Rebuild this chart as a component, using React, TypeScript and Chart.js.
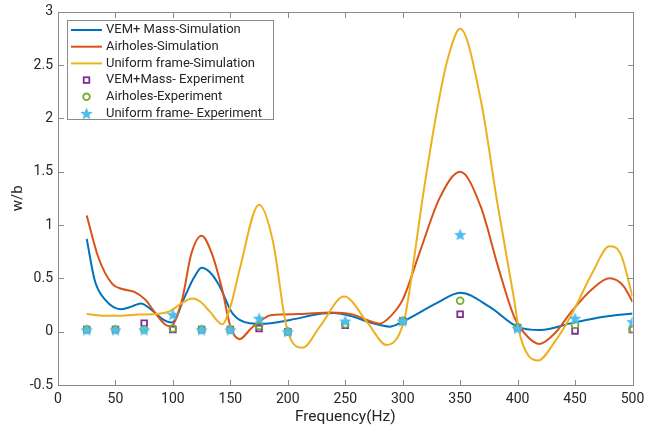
import React, { useEffect, useRef } from "react";
import { Chart, registerables } from "chart.js";

Chart.register(...registerables);

// ---- data ----
const blueFreq = [25, 32, 41, 55, 64, 72, 82, 92, 99, 110, 118, 125, 132, 140, 152, 167, 180, 202, 230, 240, 257, 272, 289, 301, 330, 350, 376, 400, 420, 447, 475, 500];
const blueVals = [0.87, 0.48, 0.3, 0.21, 0.235, 0.265, 0.2, 0.11, 0.085, 0.32, 0.5, 0.6, 0.56, 0.44, 0.17, 0.08, 0.075, 0.11, 0.17, 0.175, 0.14, 0.085, 0.047, 0.1, 0.27, 0.365, 0.23, 0.045, 0.015, 0.08, 0.14, 0.17];

const orangeFreq = [25, 35, 47, 56, 66, 76, 85, 93, 98, 108, 116, 125, 134, 143, 150, 158, 168, 176, 185, 210, 237, 257, 270, 280, 290, 300, 315, 332, 350, 368, 383, 397, 409, 419, 432, 447, 465, 480, 492, 500];
const orangeVals = [1.09, 0.7, 0.45, 0.4, 0.375, 0.3, 0.17, 0.07, 0.05, 0.3, 0.73, 0.9, 0.73, 0.39, 0.05, -0.07, 0.03, 0.1, 0.155, 0.165, 0.18, 0.16, 0.105, 0.075, 0.15, 0.3, 0.75, 1.25, 1.5, 1.17, 0.61, 0.14, -0.05, -0.115, -0.02, 0.19, 0.4, 0.5, 0.43, 0.28];

const yellowFreq = [25, 41, 55, 70, 85, 97, 108, 117, 124, 132, 143, 151, 158, 175, 187, 199, 213, 228, 249, 269, 286, 301, 306, 311, 318, 332, 339, 350, 368, 382, 397, 402, 418, 432, 446, 465, 480, 490, 500];
const yellowVals = [0.165, 0.15, 0.15, 0.16, 0.165, 0.19, 0.27, 0.31, 0.28, 0.19, 0.07, 0.27, 0.58, 1.19, 0.85, 0.04, -0.15, 0.05, 0.33, 0.09, -0.125, 0.094, 0.39, 0.77, 1.3, 2.2, 2.55, 2.84, 2.17, 1.23, 0.3, -0.03, -0.27, -0.1, 0.14, 0.55, 0.8, 0.72, 0.33];

const expFreq = [25, 50, 75, 100, 125, 150, 175, 200, 250, 300, 350, 400, 450, 500];
const vemExp = [0.02, 0.02, 0.08, 0.02, 0.02, 0.02, 0.03, 0.0, 0.06, 0.1, 0.163, 0.04, 0.007, 0.02];
const airExp = [0.02, 0.02, 0.02, 0.03, 0.02, 0.02, 0.053, 0.0, 0.07, 0.1, 0.29, 0.04, 0.063, 0.022];
const uniExp = [0.016, 0.016, 0.016, 0.16, 0.016, 0.016, 0.125, 0.0, 0.1, 0.1, 0.91, 0.03, 0.125, 0.094];

const xTicks = [0, 50, 100, 150, 200, 250, 300, 350, 400, 450, 500];
const yTicks = [-0.5, 0, 0.5, 1, 1.5, 2, 2.5, 3];

const seriesLabels = [
  "VEM+ Mass-Simulation",
  "Airholes-Simulation",
  "Uniform frame-Simulation",
  "VEM+Mass- Experiment",
  "Airholes-Experiment",
  "Uniform frame- Experiment",
];

const BLUE = "#0072BD";
const ORANGE = "#D95319";
const YELLOW = "#EDB120";
const PURPLE = "#7E2F8E";
const GREEN = "#77AC30";
const CYAN = "#4DBEEE";
const AXIS = "#8a8a8a";
const TEXT = "#262626";
const FONT = "Roboto, 'Liberation Sans', sans-serif";

function pts(xs: number[], ys: number[]) {
  return xs.map((x, i) => ({ x, y: ys[i] }));
}

function makeStar(color: string, r: number) {
  const c = document.createElement("canvas");
  const s = Math.ceil(r * 2 + 2);
  c.width = s;
  c.height = s;
  const g = c.getContext("2d")!;
  const cx = s / 2;
  const cy = s / 2 + 0.6;
  const inner = r * 0.45;
  g.beginPath();
  for (let i = 0; i < 10; i++) {
    const rad = i % 2 === 0 ? r : inner;
    const a = -Math.PI / 2 + (i * Math.PI) / 5;
    const px = cx + rad * Math.cos(a);
    const py = cy + rad * Math.sin(a);
    if (i === 0) g.moveTo(px, py);
    else g.lineTo(px, py);
  }
  g.closePath();
  g.fillStyle = color;
  g.fill();
  return c;
}

export default function App() {
  const ref = useRef<HTMLCanvasElement | null>(null);

  useEffect(() => {
    if (!ref.current) return;
    const star = makeStar(CYAN, 6.5);

    const framePlugin = {
      id: "frame",
      afterDraw(chart: any) {
        const { ctx, chartArea: a, scales } = chart;
        const xs = scales.x;
        const ys = scales.y;
        ctx.save();
        ctx.strokeStyle = AXIS;
        ctx.lineWidth = 1;
        const L = Math.round(a.left) + 0.5;
        const R = Math.round(a.right) + 0.5;
        const T = Math.round(a.top) + 0.5;
        const B = Math.round(a.bottom) + 0.5;
        ctx.strokeRect(L, T, R - L, B - T);
        const tl = 5.5;
        ctx.beginPath();
        for (const v of xTicks) {
          const px = Math.round(xs.getPixelForValue(v)) + 0.5;
          ctx.moveTo(px, B);
          ctx.lineTo(px, B - tl);
          ctx.moveTo(px, T);
          ctx.lineTo(px, T + tl);
        }
        for (const v of yTicks) {
          const py = Math.round(ys.getPixelForValue(v)) + 0.5;
          ctx.moveTo(L, py);
          ctx.lineTo(L + tl, py);
          ctx.moveTo(R, py);
          ctx.lineTo(R - tl, py);
        }
        ctx.stroke();

        // legend
        const lx = 67.5, ly = 20.5, lw = 206, lh = 99;
        ctx.fillStyle = "#ffffff";
        ctx.fillRect(lx, ly, lw, lh);
        ctx.strokeStyle = AXIS;
        ctx.strokeRect(lx, ly, lw, lh);
        const colors = [BLUE, ORANGE, YELLOW];
        ctx.font = `13px ${FONT}`;
        ctx.textBaseline = "middle";
        ctx.textAlign = "left";
        for (let i = 0; i < seriesLabels.length; i++) {
          const cy = 30 + i * 16.7;
          const mx = 86.5;
          if (i < 3) {
            ctx.strokeStyle = colors[i];
            ctx.lineWidth = 2;
            ctx.beginPath();
            ctx.moveTo(71, cy);
            ctx.lineTo(102, cy);
            ctx.stroke();
          } else if (i === 3) {
            ctx.strokeStyle = PURPLE;
            ctx.lineWidth = 1.8;
            ctx.strokeRect(mx - 2.8, cy - 2.8, 5.6, 5.6);
          } else if (i === 4) {
            ctx.strokeStyle = GREEN;
            ctx.lineWidth = 1.8;
            ctx.beginPath();
            ctx.arc(mx, cy, 3.3, 0, Math.PI * 2);
            ctx.stroke();
          } else {
            ctx.drawImage(star, mx - star.width / 2, cy - star.height / 2);
          }
          ctx.fillStyle = TEXT;
          ctx.fillText(seriesLabels[i], 106, cy);
        }
        ctx.restore();
      },
    };

    const chart = new Chart(ref.current, {
      type: "line",
      data: {
        datasets: [
          {
            label: seriesLabels[0],
            data: pts(blueFreq, blueVals),
            borderColor: BLUE,
            borderWidth: 2,
            pointRadius: 0,
            cubicInterpolationMode: "monotone",
            order: 6,
          },
          {
            label: seriesLabels[1],
            data: pts(orangeFreq, orangeVals),
            borderColor: ORANGE,
            borderWidth: 2,
            pointRadius: 0,
            cubicInterpolationMode: "monotone",
            order: 5,
          },
          {
            label: seriesLabels[2],
            data: pts(yellowFreq, yellowVals),
            borderColor: YELLOW,
            borderWidth: 2,
            pointRadius: 0,
            cubicInterpolationMode: "monotone",
            order: 4,
          },
          {
            label: seriesLabels[3],
            data: pts(expFreq, vemExp),
            showLine: false,
            pointStyle: "rect",
            pointRadius: 4,
            pointBorderWidth: 1.8,
            pointBorderColor: PURPLE,
            pointBackgroundColor: "rgba(0,0,0,0)",
            borderColor: PURPLE,
            order: 3,
          },
          {
            label: seriesLabels[4],
            data: pts(expFreq, airExp),
            showLine: false,
            pointStyle: "circle",
            pointRadius: 3.4,
            pointBorderWidth: 1.8,
            pointBorderColor: GREEN,
            pointBackgroundColor: "rgba(0,0,0,0)",
            borderColor: GREEN,
            order: 2,
          },
          {
            label: seriesLabels[5],
            data: pts(expFreq, uniExp),
            showLine: false,
            pointStyle: star,
            pointRadius: 7,
            borderColor: CYAN,
            order: 1,
          },
        ] as any,
      },
      options: {
        animation: false,
        responsive: false,
        maintainAspectRatio: false,
        layout: { padding: { top: 11.7, right: 13.5, left: 0, bottom: 0 } },
        plugins: { legend: { display: false }, tooltip: { enabled: false } },
        scales: {
          x: {
            type: "linear",
            min: 0,
            max: 500,
            grid: { display: false, drawTicks: false },
            border: { display: false },
            afterBuildTicks: (s: any) => {
              s.ticks = xTicks.map((v) => ({ value: v }));
            },
            afterFit: (s: any) => {
              s.height = 44;
              s.paddingLeft = 0;
              s.paddingRight = 0;
            },
            ticks: {
              color: TEXT,
              font: { family: FONT, size: 14 },
              padding: 6,
              maxRotation: 0,
              autoSkip: false,
              callback: (v: any) => String(v),
            },
            title: {
              display: true,
              text: "Frequency(Hz)",
              color: TEXT,
              font: { family: FONT, size: 15.5 },
              padding: { top: 0, bottom: 3 },
            },
          },
          y: {
            type: "linear",
            min: -0.5,
            max: 3,
            grid: { display: false, drawTicks: false },
            border: { display: false },
            afterBuildTicks: (s: any) => {
              s.ticks = yTicks.map((v) => ({ value: v }));
            },
            afterFit: (s: any) => {
              s.width = 58;
              s.paddingTop = 0;
              s.paddingBottom = 0;
            },
            ticks: {
              color: TEXT,
              font: { family: FONT, size: 14 },
              padding: 5,
              autoSkip: false,
              callback: (v: any) => String(v),
            },
            title: {
              display: true,
              text: "w/b",
              color: TEXT,
              font: { family: FONT, size: 15 },
              padding: { top: 9, bottom: 0 },
            },
          },
        },
      } as any,
      plugins: [framePlugin],
    });
    return () => chart.destroy();
  }, []);

  return (
    <div style={{ position: "absolute", left: 0, top: 0, width: 646, height: 429, background: "#fff" }}>
      <canvas ref={ref} width={646} height={429} style={{ width: 646, height: 429, display: "block" }} />
    </div>
  );
}
